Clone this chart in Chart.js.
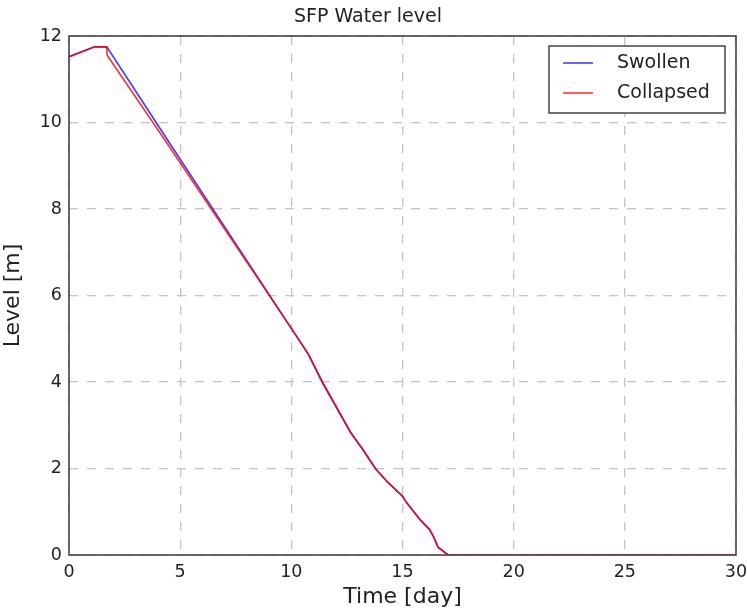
<!DOCTYPE html>
<html>
<head>
<meta charset="utf-8">
<script src="https://cdn.jsdelivr.net/npm/chart.js@4"></script>
<style>
html,body{margin:0;padding:0;background:#fff;}
#wrap{width:747px;height:610px;}
</style>
</head>
<body>
<div id="wrap"><canvas id="c" width="747" height="610"></canvas></div>
<script>
const titleText = "SFP Water level";
const xLabel = "Time [day]";
const yLabel = "Level [m]";
const xTicks = [0, 5, 10, 15, 20, 25, 30];
const yTicks = [0, 2, 4, 6, 8, 10, 12];
const seriesNames = ["Swollen", "Collapsed"];
const swollenTime  = [0, 1.15, 1.7, 4.44, 10, 10.77, 11.39, 12.66, 13.2, 13.78, 14.3, 15, 15.2, 15.8, 16.2, 16.4, 16.6, 17.05, 30];
const swollenLevel = [11.52, 11.75, 11.75, 9.59, 5.24, 4.64, 4.0, 2.84, 2.45, 2.0, 1.7, 1.36, 1.2, 0.81, 0.6, 0.42, 0.18, 0, 0];
const collapsedTime  = [0, 1.15, 1.7, 1.72, 4.32, 10, 10.77, 11.39, 12.66, 13.2, 13.78, 14.3, 15, 15.2, 15.8, 16.2, 16.4, 16.6, 17.05, 30];
const collapsedLevel = [11.52, 11.75, 11.75, 11.55, 9.59, 5.24, 4.64, 4.0, 2.84, 2.45, 2.0, 1.7, 1.36, 1.2, 0.81, 0.6, 0.42, 0.18, 0, 0];
const colors = ["rgba(0,0,255,0.75)", "rgba(255,0,0,0.8)"];

const toPts = (xs, ys) => xs.map((x, i) => ({x: x, y: ys[i]}));

const frameLegend = {
  id: 'frameLegend',
  afterDatasetsDraw(chart) {
    const {ctx, chartArea: a} = chart;
    ctx.save();
    ctx.strokeStyle = '#444';
    ctx.lineWidth = 1.6;
    ctx.strokeRect(a.left, a.top, a.right - a.left, a.bottom - a.top);
    const bx = 549, by = 46, bw = 176, bh = 67;
    ctx.fillStyle = '#fff';
    ctx.fillRect(bx, by, bw, bh);
    ctx.strokeStyle = '#444';
    ctx.lineWidth = 1.5;
    ctx.strokeRect(bx, by, bw, bh);
    ctx.font = '19px "DejaVu Sans"';
    ctx.textBaseline = 'middle';
    chart.data.datasets.forEach((ds, i) => {
      const yy = by + 17 + i * 30;
      ctx.strokeStyle = ds.borderColor;
      ctx.lineWidth = 1.6;
      ctx.beginPath();
      ctx.moveTo(bx + 14, yy);
      ctx.lineTo(bx + 44, yy);
      ctx.stroke();
      ctx.fillStyle = '#222';
      ctx.fillText(ds.label, bx + 68, yy);
    });
    ctx.restore();
  }
};

new Chart(document.getElementById('c'), {
  type: 'scatter',
  data: {
    datasets: [
      {label: seriesNames[0], data: toPts(swollenTime, swollenLevel), showLine: true, borderColor: colors[0], borderWidth: 1.7, pointRadius: 0, tension: 0, order: 2},
      {label: seriesNames[1], data: toPts(collapsedTime, collapsedLevel), showLine: true, borderColor: colors[1], borderWidth: 1.7, pointRadius: 0, tension: 0, order: 1}
    ]
  },
  options: {
    responsive: false,
    animation: false,
    layout: {padding: {top: 0, right: 11, bottom: 0, left: 0}},
    plugins: {
      legend: {display: false},
      tooltip: {enabled: false},
      title: {display: true, text: titleText, color: '#222', font: {family: 'DejaVu Sans', size: 19, weight: 'normal'}, padding: {top: 6, bottom: 7.2}}
    },
    scales: {
      x: {
        type: 'linear', min: 0, max: 30,
        afterBuildTicks: s => { s.ticks = xTicks.map(v => ({value: v})); },
        afterFit: s => { s.height = 55; s.paddingLeft = 0; s.paddingRight = 0; },
        grid: {color: '#c4c4c4', lineWidth: 1.3, drawTicks: false},
        border: {display: false, dash: [9, 9]},
        ticks: {color: '#222', font: {family: 'DejaVu Sans', size: 17.5}, padding: 7, maxRotation: 0},
        title: {display: true, text: xLabel, color: '#222', font: {family: 'DejaVu Sans', size: 22}, padding: {top: 0, bottom: 0}}
      },
      y: {
        min: 0, max: 12,
        afterBuildTicks: s => { s.ticks = yTicks.map(v => ({value: v})); },
        afterFit: s => { s.width = 69; s.paddingTop = 0; s.paddingBottom = 0; },
        grid: {color: '#c4c4c4', lineWidth: 1.3, drawTicks: false},
        border: {display: false, dash: [9, 9]},
        ticks: {color: '#222', font: {family: 'DejaVu Sans', size: 17.5}, padding: 7},
        title: {display: true, text: yLabel, color: '#222', font: {family: 'DejaVu Sans', size: 22}, padding: {top: 0, bottom: 6}}
      }
    }
  },
  plugins: [frameLegend]
});
</script>
</body>
</html>
